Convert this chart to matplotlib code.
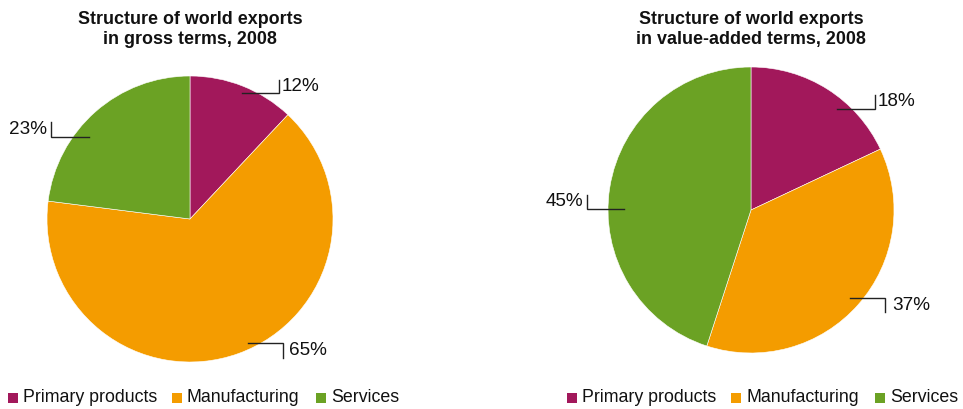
import matplotlib
matplotlib.use("Agg")
import matplotlib.pyplot as plt
import numpy as np
from matplotlib.patches import Rectangle

plt.rcParams['font.family'] = ['Liberation Sans', 'DejaVu Sans']

categories = ["Primary products", "Manufacturing", "Services"]
gross_values = [12, 65, 23]
va_values = [18, 37, 45]
titles = ["Structure of world exports\nin gross terms, 2008",
          "Structure of world exports\nin value-added terms, 2008"]
colors = ["#A2185B", "#F49C00", "#6BA224"]

W, H = 963, 409
fig = plt.figure(figsize=(W / 100, H / 100), dpi=100)
ax = fig.add_axes([0, 0, 1, 1])
ax.set_xlim(0, W)
ax.set_ylim(0, H)

def py(y):
    return H - y

pies = [
    dict(values=gross_values, title=titles[0], cx=190, cy=219, r=143,
         # (inner x, inner y, corner x, vertical end y, text side, gap)
         leaders=[(242, 93, 279, 80, 'right', 3),
                  (248, 343, 283, 358, 'right', 6),
                  (89, 137, 51, 122, 'left', 4)],
         legend_x=8),
    dict(values=va_values, title=titles[1], cx=751, cy=210, r=143,
         leaders=[(837, 109, 875, 95, 'right', 3),
                  (850, 298, 885, 312, 'right', 7),
                  (624, 209, 587, 195, 'left', 4)],
         legend_x=567),
]

for p in pies:
    ax.pie(p['values'], colors=colors, startangle=90, counterclock=False,
           center=(p['cx'], py(p['cy'])), radius=p['r'], frame=True,
           wedgeprops=dict(edgecolor='white', linewidth=0.4))
    ax.text(p['cx'], py(29.5), p['title'], ha='center', va='center',
            fontsize=12.9, fontweight='bold', linespacing=1.28, color='#111111')
    for val, (x0, y0, xc, ye, side, gap) in zip(p['values'], p['leaders']):
        ax.plot([x0, xc, xc], [py(y0), py(y0), py(ye)], color='#222222', lw=1.0,
                solid_joinstyle='miter')
        ymid = (y0 + ye) / 2
        if side == 'right':
            ax.text(xc + gap, py(ymid), f"{val}%", ha='left', va='center',
                    fontsize=13.6, color='#111111')
        else:
            ax.text(xc - gap, py(ymid), f"{val}%", ha='right', va='center',
                    fontsize=13.6, color='#111111')
    # legend
    offsets = [0, 164, 308]
    for cat, col, off in zip(categories, colors, offsets):
        lx = p['legend_x'] + off
        ax.add_patch(Rectangle((lx, py(403)), 10, 10, facecolor=col, edgecolor='none'))
        ax.text(lx + 15, py(398), cat, ha='left', va='center', fontsize=12.75,
                color='#111111')

ax.set_xlim(0, W)
ax.set_ylim(0, H)
ax.set_aspect('auto')
ax.axis('off')
fig.savefig("out.png", dpi=100)
